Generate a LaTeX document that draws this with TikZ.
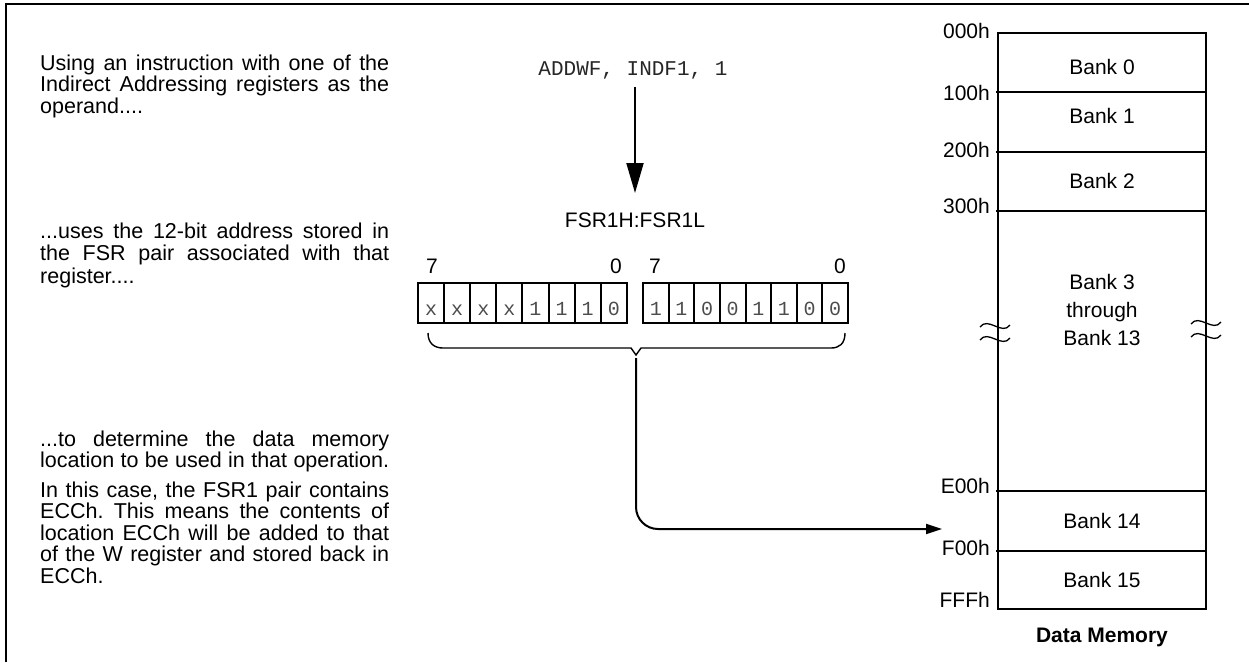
\documentclass[tikz,border=0pt]{standalone}
\usepackage{fontspec}
\setmainfont{Liberation Sans}
\setmonofont{Liberation Mono}
\usetikzlibrary{arrows.meta}
\frenchspacing
\newcommand{\jl}[1]{\makebox[349pt][s]{#1}}
\begin{document}
\begin{tikzpicture}[x=1pt,y=-1pt,
  txt/.style={anchor=base west, inner sep=0pt, font=\fontsize{21.5}{22}\selectfont},
  lbl/.style={anchor=base east, inner sep=0pt, font=\fontsize{21}{22}\selectfont},
  bank/.style={anchor=base, inner sep=0pt, font=\fontsize{21}{22}\selectfont},
  bitcell/.style={draw, line width=2pt, minimum width=26.1pt, minimum height=40pt, inner sep=0pt,
     text height=23.4pt, text depth=0pt, font=\fontsize{20}{20}\ttfamily, text=black!70},
  memline/.style={line width=2.2pt},
  tilde/.style={line width=1.3pt},
  bigarrow/.style={line width=2pt, -{Triangle[length=30pt,width=17pt]}},
  smallarrow/.style={line width=2pt, rounded corners=22pt, -{Triangle[length=16pt,width=10pt]}}]
\useasboundingbox (0,0) rectangle (1249,662);
% frame
\draw[line width=2.5pt] (1249,4) -- (6,4) -- (6,662);

% left text
\node[txt] (t1a) at (40,70) {\jl{Using an instruction with one of the}};
\node[txt] (t1b) at (40,91.5) {\jl{Indirect Addressing registers as the}};
\node[txt] (t1c) at (40,113) {operand....};
\node[txt] (t2a) at (40,238) {\jl{...uses the 12-bit address stored in}};
\node[txt] (t2b) at (40,260.5) {\jl{the FSR pair associated with that}};
\node[txt] (t2c) at (40,283) {register....};
\node[txt] (t3a) at (40,446) {\jl{...to determine the data memory}};
\node[txt] (t3b) at (40,467.5) {\jl{location to be used in that operation.}};
\node[txt] (t4a) at (40,497) {\jl{In this case, the FSR1 pair contains}};
\node[txt] (t4b) at (40,518.5) {\jl{ECCh. This means the contents of}};
\node[txt] (t4c) at (40,540) {\jl{location ECCh will be added to that}};
\node[txt] (t4d) at (40,561.5) {\jl{of the W register and stored back in}};
\node[txt] (t4e) at (40,583) {ECCh.};

% instruction
\node[anchor=base, inner sep=0pt, font=\fontsize{21}{22}\ttfamily, text=black!85] (addwf) at (633,75) {ADDWF, INDF1, 1};
\node[bank] (fsr) at (635,227) {FSR1H:FSR1L};
\draw[bigarrow] (635,87) -- (635,193);

% bit labels
\node[bank] (h7) at (432,273) {7};
\node[bank] (h0) at (616,273) {0};
\node[bank] (l7) at (655,273) {7};
\node[bank] (l0) at (840,273) {0};

% bit cells
\foreach \b [count=\i from 0] in {x,x,x,x,1,1,1,0}
  \node[bitcell] (hb\i) at ({418+26.1*(\i+0.5)},303.3) {\b};
\foreach \b [count=\i from 0] in {1,1,0,0,1,1,0,0}
  \node[bitcell, minimum width=25.63pt] (lb\i) at ({643+25.625*(\i+0.5)},303.3) {\b};

% brace
\coordinate (braceL) at (428,333);
\coordinate (braceR) at (845,333);
\coordinate (bracetip) at (636,355);
\draw[line width=1.4pt] (braceL) .. controls (428,344) and (435,348) .. (443,348) -- (631,348) -- (bracetip)
  -- (641,348) -- (831,348) .. controls (839,348) and (845,344) .. (braceR);

% connector
\coordinate (stem) at (636,358);
\coordinate (target) at (942,529);
\draw[smallarrow] (stem) |- (target);

% memory map
\draw[memline] (998,33) rectangle (1206,609);
\foreach \yy in {92,152,211,491,551}
  \draw[memline] (996,\yy) -- (1206,\yy);

\node[lbl] (a000) at (990,38) {000h};
\node[lbl] (a100) at (990,100) {100h};
\node[lbl] (a200) at (990,157) {200h};
\node[lbl] (a300) at (990,213) {300h};
\node[lbl] (aE00) at (990,493) {E00h};
\node[lbl] (aF00) at (990,555) {F00h};
\node[lbl] (aFFF) at (990,607) {FFFh};

\node[bank] (bk0) at (1102,74) {Bank 0};
\node[bank] (bk1) at (1102,123) {Bank 1};
\node[bank] (bk2) at (1102,188) {Bank 2};
\node[bank] (bk3) at (1102,289) {Bank 3};
\node[bank] (bkt) at (1102,317) {through};
\node[bank] (bk13) at (1102,345) {Bank 13};
\node[bank] (bk14) at (1102,528) {Bank 14};
\node[bank] (bk15) at (1102,587) {Bank 15};
\node[bank, font=\fontsize{21}{22}\selectfont\bfseries] (dm) at (1102,642) {Data Memory};

% break marks
\foreach \xx/\yy in {995/326, 995/339, 1206/323, 1206/336}
  \draw[tilde] (\xx-15,\yy+1) .. controls (\xx-7,\yy-10) and (\xx+7,\yy+10) .. (\xx+15,\yy-1);
\end{tikzpicture}
\end{document}
